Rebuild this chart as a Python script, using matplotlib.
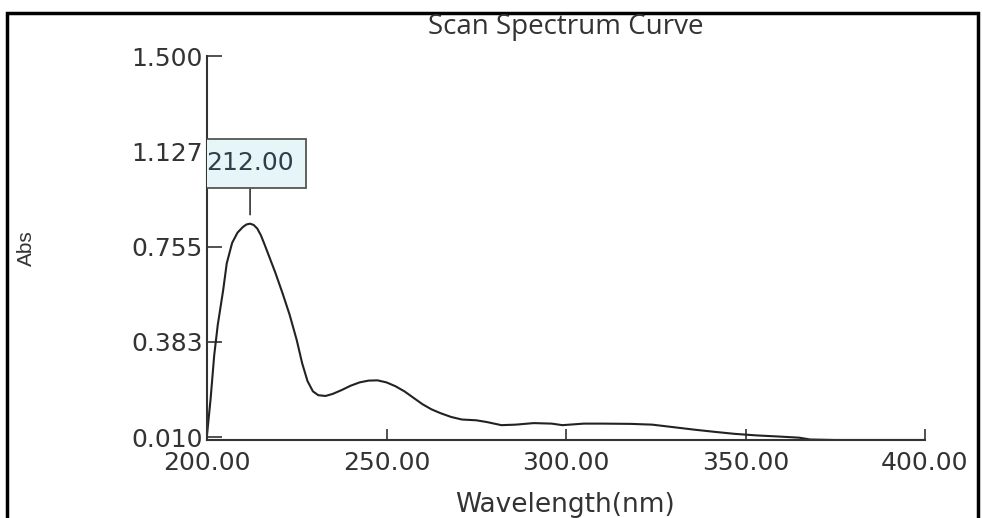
import matplotlib.pyplot as plt
from matplotlib.patches import Rectangle

# spectrum
wavelength = [200.0, 201.0, 202.0, 203.0, 204.0, 204.5, 205.5, 207.0, 208.5, 210.0,
              211.0, 212.0, 213.0, 214.0, 215.0, 216.0, 217.5, 219.0, 221.0, 223.0,
              225.0, 226.5, 228.0, 229.5, 231.0, 233.0, 235.0, 237.5, 240.0, 242.5,
              245.0, 247.5, 250.0, 252.5, 255.0, 257.5, 260.0, 262.5, 265.0, 268.0,
              271.0, 275.0, 278.0, 282.0, 286.0, 291.0, 296.0, 299.0, 301.0, 305.0,
              310.0, 318.0, 324.0, 330.0, 336.0, 342.0, 347.0, 353.0, 360.0, 365.0,
              368.0, 375.0, 400.0]
absorbance = [0.02, 0.16, 0.33, 0.45, 0.54, 0.585, 0.69, 0.77, 0.81, 0.832,
              0.842, 0.845, 0.84, 0.826, 0.80, 0.765, 0.71, 0.655, 0.575, 0.49,
              0.39, 0.30, 0.23, 0.19, 0.175, 0.172, 0.18, 0.195, 0.212, 0.225,
              0.232, 0.233, 0.225, 0.21, 0.19, 0.165, 0.14, 0.12, 0.105, 0.09,
              0.08, 0.077, 0.07, 0.058, 0.06, 0.066, 0.064, 0.058, 0.06, 0.064,
              0.064, 0.063, 0.06, 0.05, 0.04, 0.031, 0.024, 0.018, 0.013, 0.009,
              0.002, 0.0, 0.0]

x_ticks = [200, 250, 300, 350, 400]
x_labels = ['200.00', '250.00', '300.00', '350.00', '400.00']
y_ticks = [0.010, 0.383, 0.755, 1.127, 1.500]
y_labels = ['0.010', '0.383', '0.755', '1.127', '1.500']

peak_wl = 212.0
peak_abs = 0.845
peak_label = '212.00'

W, H = 983, 518
fig = plt.figure(figsize=(W / 100, H / 100), dpi=100)
ax = fig.add_axes([207 / W, 1 - 440 / H, (925 - 207) / W, (440 - 56) / H])

ax.plot(wavelength, absorbance, color='#222222', lw=1.5)

ax.set_xlim(200, 400)
ax.set_ylim(0, 1.5)
ax.set_xticks(x_ticks)
ax.set_xticklabels(x_labels)
ax.set_yticks(y_ticks)
ax.set_yticklabels(y_labels)

for side in ['top', 'right']:
    ax.spines[side].set_visible(False)
for side in ['left', 'bottom']:
    ax.spines[side].set_color('#333333')
    ax.spines[side].set_linewidth(1.5)

ax.tick_params(axis='y', direction='in', length=11, width=1.2, color='#333333',
               pad=3, labelsize=18, labelcolor='#333333')
ax.tick_params(axis='x', direction='in', length=8, width=1.2, color='#333333',
               pad=8, labelsize=18, labelcolor='#333333')

# peak marker box, clipped at the y axis like in the original
ann = ax.annotate(peak_label, xy=(peak_wl, peak_abs), xytext=(peak_wl, 1.082),
                  textcoords='data', ha='center', va='center', fontsize=18,
                  color='#2e3e4a',
                  bbox=dict(boxstyle='square,pad=0.5', fc='#e6f6f8', ec='#555555', lw=1.3),
                  arrowprops=dict(arrowstyle='-', color='#333333', lw=1.2,
                                  shrinkA=0, shrinkB=6.5))
ann.set_clip_path(ax.patch)
ann.set_clip_on(True)

fig.text(566 / W, 1 - 27 / H, 'Scan Spectrum Curve', ha='center', va='center',
         fontsize=20, family='Open Sans', color='#333333')
fig.text(565 / W, 1 - 505 / H, 'Wavelength(nm)', ha='center', va='center',
         fontsize=19, color='#333333')
fig.text(26 / W, 1 - 248 / H, 'Abs', ha='center', va='center', rotation=90,
         fontsize=15, family='Liberation Sans', color='#333333')

# outer frame
fig.add_artist(Rectangle((7 / W, -0.1), (978 - 7) / W, 1.1 - 13 / H,
                         transform=fig.transFigure, fill=False, ec='black', lw=2.5))

plt.savefig('out.png', dpi=100)
